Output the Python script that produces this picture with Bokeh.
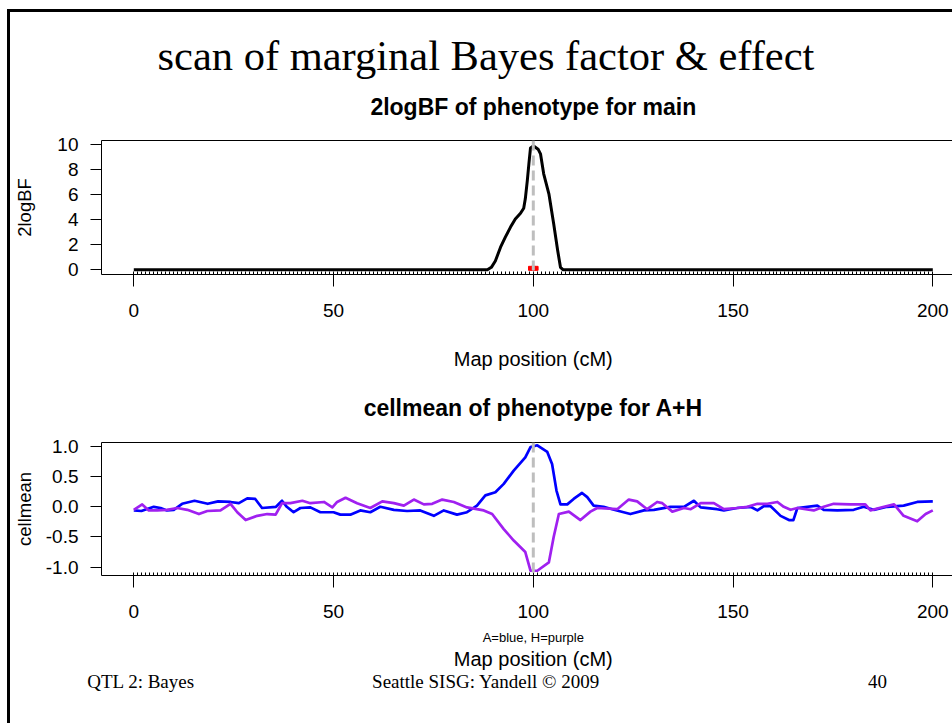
from bokeh.plotting import figure
from bokeh.models import (Range1d, FixedTicker, LinearAxis, Span, Title, Spacer,
                          PrintfTickFormatter)
from bokeh.layouts import row, column
from bokeh.embed import file_html
from bokeh.resources import INLINE

# ---------------- data ----------------
main_title = "scan of marginal Bayes factor & effect"
title_bf = "2logBF of phenotype for main"
title_cm = "cellmean of phenotype for A+H"
ylab_bf = "2logBF"
ylab_cm = "cellmean"
xlab = "Map position (cM)"
sub_cm = "A=blue, H=purple"
footer_texts = ["QTL 2: Bayes", "Seattle SISG: Yandell \u00a9 2009", "40"]

map_ticks = [0, 50, 100, 150, 200]
marker_grid = list(range(0, 201))          # pseudomarker grid (rug)
bf_ticks = [0, 2, 4, 6, 8, 10]
cm_ticks = [-1.0, -0.5, 0.0, 0.5, 1.0]
peak_pos = 100
map_mid = 100                              # centre of the 0..200 cM map (titles centred here)

bf_pos = [0, 88.5, 89.5, 90.5, 91.8, 93.0, 94.3, 95.5, 96.8, 97.6, 98.0, 98.5, 98.9,
          99.3, 100.0, 100.5, 101.2, 101.8, 102.6, 103.9, 105.1, 106.1, 106.8, 107.5, 200]
bf_val = [0, 0, 0.2, 0.7, 1.8, 2.6, 3.4, 4.05, 4.5, 4.9, 5.65, 7.1, 8.45,
          9.7, 9.85, 9.76, 9.6, 9.23, 7.64, 6.05, 3.66, 1.54, 0.2, 0, 0]

qtl_pos = [99.3, 100.0, 100.7]
qtl_val = [0.12, 0.12, 0.12]

a_pos = [0, 1.9, 5.0, 6.7, 8.3, 10.0, 12.1, 15.2, 18.5, 21.1, 24.2, 26.3, 28.4, 30.4,
         32.1, 35.6, 37.1, 38.3, 40.0, 41.7, 44.2, 46.7, 50.0, 51.7, 54.2, 56.7, 59.2,
         61.7, 65.1, 68.4, 71.7, 75.1, 77.6, 80.9, 83.4, 85.9, 88.0, 90.5, 92.6, 95.1,
         98.0, 99.3, 101.0, 103.5, 104.7, 105.8, 106.8, 108.5, 110.1, 112.2, 113.5,
         115.1, 117.6, 120.2, 124.3, 127.7, 130.2, 134.3, 137.7, 140.2, 141.9, 146.0,
         147.7, 151.0, 154.4, 156.1, 157.7, 159.4, 161.9, 164.0, 165.1, 166.1, 171.1,
         172.7, 176.1, 180.2, 182.7, 185.2, 188.6, 192.7, 196.1, 200.0]
a_val = [-0.06, -0.07, 0.0, -0.02, -0.06, -0.05, 0.05, 0.1, 0.05, 0.09, 0.08, 0.06, 0.14, 0.13,
         -0.02, 0.0, 0.1, 0.0, -0.09, -0.02, -0.01, -0.09, -0.09, -0.13, -0.13, -0.06, -0.09,
         0.0, -0.05, -0.07, -0.06, -0.15, -0.06, -0.13, -0.09, 0.02, 0.19, 0.24, 0.38, 0.6,
         0.82, 0.99, 1.02, 0.91, 0.71, 0.27, 0.04, 0.04, 0.13, 0.23, 0.16,
         0.02, 0.0, -0.05, -0.12, -0.06, -0.05, 0.0, 0.0, 0.1, -0.01, -0.04,
         -0.06, -0.02, 0.0, -0.06, 0.01, 0.01, -0.15, -0.22, -0.22, -0.02, 0.02,
         -0.05, -0.06, -0.05, 0.0, -0.05, 0.0, 0.02, 0.08, 0.09]

h_pos = [0, 2.1, 3.75, 5.85, 8.3, 10.9, 13.4, 16.3, 18.4, 21.7, 24.2, 25.9, 28.0, 30.9,
         33.4, 35.5, 37.1, 39.2, 42.2, 44.2, 47.6, 49.7, 50.9, 53.0, 55.9, 59.2, 62.2,
         65.1, 67.6, 70.1, 72.6, 74.7, 77.2, 80.1, 83.4, 87.6, 89.7, 92.6, 95.1, 98.0,
         99.3, 101.0, 103.9, 105.1, 106.4, 108.9, 111.8, 114.3, 116.0, 121.0, 123.9,
         126.0, 128.5, 131.0, 132.3, 134.8, 137.7, 139.4, 141.9, 145.2, 147.7, 151.0,
         153.6, 156.1, 158.6, 161.1, 162.7, 164.4, 166.1, 170.2, 172.7, 175.2, 179.4,
         183.1, 184.4, 187.8, 190.3, 192.7, 196.1, 198.2, 200.0]
h_val = [-0.05, 0.04, -0.06, -0.06, -0.05, -0.02, -0.05, -0.12, -0.07, -0.06, 0.05, -0.09, -0.22, -0.15,
         -0.12, -0.13, 0.06, 0.06, 0.1, 0.06, 0.08, -0.01, 0.08, 0.15, 0.06, -0.02, 0.09,
         0.06, 0.02, 0.12, 0.04, 0.05, 0.12, 0.08, -0.01, -0.06, -0.12, -0.37, -0.56, -0.75,
         -1.06, -1.06, -0.92, -0.5, -0.12, -0.08, -0.22, -0.08, -0.02, -0.04, 0.12,
         0.09, -0.04, 0.08, 0.06, -0.08, -0.02, -0.04, 0.06, 0.06, -0.04, -0.02,
         0.0, 0.05, 0.05, 0.08, 0.0, -0.05, -0.02, -0.06, 0.0, 0.05, 0.04,
         0.04, -0.06, 0.0, 0.04, -0.15, -0.24, -0.12, -0.06]

# ---------------- geometry / styling ----------------
SANS = "Liberation Sans"
SERIF = "Liberation Serif"
COL_X = 10                     # left edge of the plots column on the page
FIG_W = 942
FRAME_L, FRAME_R = 101, 952
X_RANGE = (-8.085, 204.93)
Y1_RANGE = (-0.37, 10.29)
Y2_RANGE = (-1.139, 1.066)
FOOTER_CENTERS_PX = [140.5, 485.5, 877]      # page x of footer text centres


def dx(px):
    return X_RANGE[0] + (px - FRAME_L) * (X_RANGE[1] - X_RANGE[0]) / (FRAME_R - FRAME_L)


def text_axis(positions, texts, standoff, font, size, style="normal", line_color=None):
    """A bare axis (no ticks) whose only tick labels are the given texts."""
    return LinearAxis(ticker=FixedTicker(ticks=positions),
                      major_label_overrides=dict(zip(positions, texts)),
                      axis_line_color=line_color, axis_line_width=1,
                      major_tick_line_color=None,
                      major_tick_in=0, major_tick_out=0, minor_tick_in=0, minor_tick_out=0,
                      major_label_standoff=standoff, major_label_text_font=font,
                      major_label_text_font_size=size, major_label_text_font_style=style,
                      major_label_text_color="black")


def make_panel(y0, top, bot, y1, y_range, y_ticks, title_text, title_standoff,
               ylab, ylab_standoff):
    p = figure(width=FIG_W, height=y1 - y0, x_range=Range1d(*X_RANGE),
               y_range=Range1d(*y_range), toolbar_location=None,
               output_backend="svg", title=None,
               min_border_left=FRAME_L - COL_X, min_border_right=0,
               min_border_top=top - y0, min_border_bottom=y1 - bot,
               outline_line_color=None,
               background_fill_color="white", border_fill_color="white")
    p.grid.visible = False
    xa = p.below[0]
    xa.ticker = FixedTicker(ticks=map_ticks, minor_ticks=marker_grid)
    xa.major_tick_in = 0
    xa.major_tick_out = 12
    xa.minor_tick_in = 3
    xa.minor_tick_out = 0
    xa.axis_line_color = "black"
    xa.major_tick_line_color = "black"
    xa.minor_tick_line_color = "black"
    xa.major_label_text_font = SANS
    xa.major_label_text_font_size = "19px"
    xa.major_label_text_color = "black"
    xa.major_label_standoff = 17

    ya = p.left[0]
    ya.ticker = FixedTicker(ticks=y_ticks)
    ya.major_tick_in = 0
    ya.major_tick_out = 11
    ya.minor_tick_in = 0
    ya.minor_tick_out = 0
    ya.axis_line_color = "black"
    ya.major_tick_line_color = "black"
    ya.major_label_text_font = SANS
    ya.major_label_text_font_size = "19px"
    ya.major_label_text_color = "black"
    ya.major_label_standoff = 12
    ya.axis_label = ylab
    ya.axis_label_text_font = SANS
    ya.axis_label_text_font_size = "18.5px"
    ya.axis_label_text_font_style = "normal"
    ya.axis_label_text_color = "black"
    ya.axis_label_standoff = ylab_standoff

    # panel title, centred over the 0..200 cM map like R does; its axis line is the
    # top edge of the plot box
    p.add_layout(text_axis([map_mid], [title_text], title_standoff, SANS, "23px", "bold",
                           line_color="black"), "above")
    p.add_layout(Span(location=peak_pos, dimension="height", line_color="#BEBEBE",
                      line_width=3, line_dash="10 5"))
    return p


# ---- panel 1 : 2logBF ----
p1 = make_panel(12, 140, 274, 380, Y1_RANGE, bf_ticks, title_bf, 21, ylab_bf, 19)
p1.line(bf_pos, bf_val, line_color="black", line_width=3, line_join="round")
p1.scatter(qtl_pos, qtl_val, marker="square", size=4, color="red")
p1.add_layout(text_axis([map_mid], [xlab], 28, SANS, "20px"), "below")
p1.add_layout(Title(text=main_title, align="left", offset=56, standoff=24,
                    text_font=SERIF, text_font_size="42.5px", text_font_style="normal",
                    text_color="black"), "above")

# ---- panel 2 : cellmean ----
p2 = make_panel(380, 442, 575, 723, Y2_RANGE, cm_ticks, title_cm, 22, ylab_cm, 8)
p2.left[0].formatter = PrintfTickFormatter(format="%.1f")
p2.line(a_pos, a_val, line_color="blue", line_width=2.7, line_join="round")
p2.line(h_pos, h_val, line_color="#A020F0", line_width=2.7, line_join="round")
p2.add_layout(text_axis([map_mid], [sub_cm], 9, SANS, "13px"), "below")
p2.add_layout(text_axis([map_mid], [xlab], 0, SANS, "20px"), "below")

# slide footer line
footer_ticks = [round(dx(px), 4) for px in FOOTER_CENTERS_PX]
p2.add_layout(text_axis(footer_ticks, footer_texts, -2, SERIF, "19px"), "below")

# ---- slide frame lines (left and top) ----
left_pad = Spacer(width=7, height=723)
left_line = column([Spacer(width=3, height=9),
                    Spacer(width=3, height=714, styles={"background-color": "black"})],
                   spacing=0)
plots = column([Spacer(width=FIG_W, height=9),
                Spacer(width=FIG_W, height=3, styles={"background-color": "black"}),
                p1, p2], spacing=0)

layout = row([left_pad, left_line, plots], spacing=0)

with open("out.html", "w", encoding="utf-8") as f:
    f.write(file_html(layout, INLINE, title="scan of marginal Bayes factor & effect"))
